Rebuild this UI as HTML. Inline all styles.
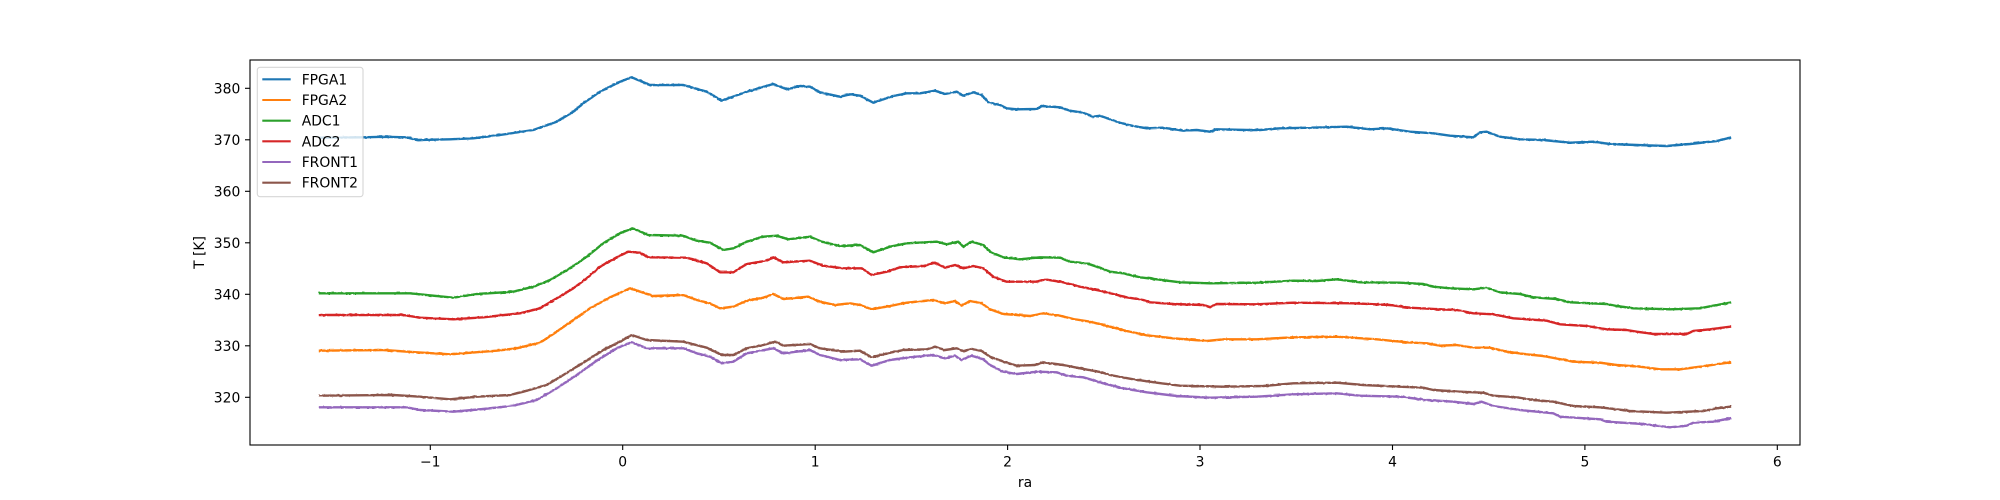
<!DOCTYPE html>
<html>
<head>
<meta charset="utf-8">
<style>
html,body{margin:0;padding:0;background:#fff;}
svg{display:block;}
text{font-family:"DejaVu Sans","Liberation Sans",sans-serif;font-size:13.9px;fill:#000;}
</style>
</head>
<body>
<svg width="2000" height="500" viewBox="0 0 2000 500" xmlns="http://www.w3.org/2000/svg">
<defs>
<filter id="jit" filterUnits="userSpaceOnUse" x="0" y="0" width="2000" height="500">
<feTurbulence type="fractalNoise" baseFrequency="0.35 0.6" numOctaves="1" seed="3" result="n"/>
<feDisplacementMap in="SourceGraphic" in2="n" scale="1.8" xChannelSelector="R" yChannelSelector="G"/>
</filter>
</defs>
<rect x="0" y="0" width="2000" height="500" fill="#fff"/>
<g fill="none" stroke-width="2.4" stroke-linejoin="round" stroke-linecap="square" filter="url(#jit)">
<polyline stroke="#1f77b4" points="320,137.8 340,137.5 363,137.3 385,136.8 406.7,137.3 416.7,140 450,139.3 473.3,138.3 500,135 533.3,130 556.7,121.7 573.3,111.7 583.3,103.3 600,91.7 620,81.7 631.7,77.3 650,85 683.3,85 706.7,91.7 721.7,100.7 746.7,91.7 773.3,84 786.7,89.3 800,86 810,86.7 820,92.3 840,96.7 850,94.3 860,95.7 873.3,102.7 893.3,96 906.7,93.3 920,93.3 935,90.7 945,94 956.7,91.7 963.3,95.7 973.3,92.3 981.7,95 988.3,102.3 1000,105 1006.7,108.3 1016.7,109.3 1036.7,109 1041.7,106 1060,107.3 1070,110.7 1083.3,112.7 1093.3,116.7 1100,115.7 1110,119.3 1120,122.7 1133.3,126 1146.7,128.3 1163.3,127.7 1183.3,130.7 1196.7,130 1210,131.7 1216.7,129.3 1246.7,130 1260,130 1280,128.3 1310,127.7 1346.7,126.7 1370,129.3 1386.7,128.3 1410,131.7 1433.3,133.3 1450,135.7 1473.3,137.3 1480,132.3 1486.7,131.7 1500,136.7 1520,139.3 1543.3,140 1570,142.7 1593.3,141.7 1610,144 1636.7,145 1666.7,146 1690,144 1716.7,141 1730,137.7"/>
<polyline stroke="#ff7f0e" points="320,350.7 383.3,350 416.7,352.3 450,354.3 496.7,350.7 516.7,348.3 540,342.7 556.7,331.7 573.3,320 590,308.3 610,297.3 630,288.3 643.3,292.7 653.3,296 683.3,295 696.7,300 710,303.3 720,308.3 733.3,306.7 746.7,300.7 763.3,297.7 773.3,294 783.3,299 808.3,296.7 820,301.7 835,305 850,303.3 860,305 871.7,309.3 890,306 906.7,302.7 933.3,300 945,303.3 955,301 961.7,305.7 970,301 981.7,303.3 990,309.3 1003.3,314 1030,316 1043.3,313.3 1060,315.7 1073.3,319 1090,321.7 1110,326.7 1126.7,331 1146.7,335.3 1173.3,338.3 1206.7,341 1223.3,339.3 1256.7,339.3 1293.3,337.3 1336.7,336.7 1376.7,339.3 1406.7,342.3 1426.7,343.3 1440,345.7 1456.7,345 1473.3,347.7 1490,347.7 1506.7,351.7 1526.7,354.3 1543.3,356 1573.3,361.7 1600,362.7 1616.7,365 1640,366.7 1660,369.3 1680,369.3 1700,366.7 1730,362.3"/>
<polyline stroke="#2ca02c" points="320,293.3 410,293.3 453.3,297.7 476.7,294 513.3,291.7 533.3,286.7 550,280 570,268.3 586.7,256.7 603.3,243.3 620,233.3 632.7,228.3 648.3,235 683.3,235.7 696.7,240.7 710,242.7 723.3,250 733.3,248.3 746.7,241.7 763.3,236.7 776.7,235.7 788.3,239.3 810,236.7 821.7,241.7 840,246 860,245 873.3,252.3 890,246.7 906.7,243.3 936.7,241.7 946.7,244.3 958.3,241.7 963.3,246.7 971.7,241.7 983.3,245 990,251.7 1003.3,257.3 1020,259.3 1040,257.3 1060,257.7 1070,261.7 1086.7,263.3 1101.7,268.3 1110,271.7 1123.3,273.3 1140,277.3 1156.7,279.3 1180,282.3 1210,283.3 1256.7,282.7 1293.3,280.7 1316.7,281 1336.7,279.3 1360,282.3 1400,282.7 1423.3,284 1433.3,286.7 1450,288.3 1473.3,289.3 1486.7,287.7 1500,292.3 1520,294 1533.3,297.3 1556.7,299 1570,302.3 1606.7,304 1616.7,306 1633.3,308.3 1670,309.3 1700,308.3 1713.3,305.7 1730,302.7"/>
<polyline stroke="#d62728" points="320,315 403.3,315 420,317.7 453.3,319.3 483.3,317.3 520,313.3 540,308.3 556.7,298.3 573.3,288.3 586.7,278.3 600,266.7 616.7,257.3 628.3,251.7 640,252.7 648.3,257.3 686.7,257.7 706.7,263.3 720,272.3 733.3,272.3 746.7,264 766.7,260.7 773.3,257.3 783.3,262.3 810,260.7 823.3,265.7 843.3,268.3 861.7,268.3 871.7,275 886.7,271.7 900,267.3 923.3,266 935,262.7 945,267.7 955,265 963.3,268.3 973.3,266 983.3,268.3 993.3,276.7 1006.7,281.7 1036.7,281.7 1045,279.3 1063.3,282.3 1080,286.7 1100,290.7 1113.3,294 1126.7,297.3 1143.3,300 1150,302.3 1173.3,304 1203.3,305 1210,307.3 1216.7,304 1256.7,304.3 1293.3,302.7 1353.3,303.3 1390,305 1410,307.7 1440,309.3 1456.7,310 1473.3,313.3 1493.3,314.3 1513.3,318.3 1546.7,320.7 1560,324.3 1586.7,326 1606.7,329.3 1626.7,330 1636.7,331.7 1653.3,334 1686.7,334 1693.3,331 1710,329.3 1730,326.7"/>
<polyline stroke="#9467bd" points="320,407.3 406.7,407.3 420,410 453.3,411.7 483.3,409 513.3,405.7 536.7,400 556.7,388.3 576.7,375 596.7,360.7 616.7,348.3 631.7,342.3 646.7,348.3 683.3,348.3 696.7,353.3 710,356.7 721.7,363.3 733.3,361.7 746.7,353.3 773.3,348.3 783.3,353.3 810,350 820,355 840,360 860,359.3 871.7,365.7 890,360 910,357.3 933.3,355 945,358.3 955,355.7 961.7,360 971.7,355.7 983.3,359.3 990,365 1003.3,371.7 1016.7,374 1036.7,371.7 1056.7,372.3 1066.7,375.7 1083.3,377.3 1103.3,383.3 1123.3,388.3 1146.7,392.3 1176.7,396 1210,397.7 1256.7,396.7 1293.3,394.3 1336.7,393.3 1360,395.7 1400,396.7 1426.7,400 1453.3,401.7 1473.3,404 1481.7,401.7 1493.3,406 1520,410 1553.3,413.3 1560,416.7 1600,419.3 1606.7,421.7 1643.3,424 1670,427.3 1686.7,425.7 1693.3,422.7 1713.3,421.7 1730,418.3"/>
<polyline stroke="#8c564b" points="320,395.7 393.3,395 420,396.7 450,399.3 476.7,396.7 510,395 523.3,391.7 546.7,385 563.3,375 583.3,362.7 603.3,350 620,341.7 631.7,335 646.7,340 683.3,341.7 706.7,347.7 721.7,355 733.3,355 746.7,348.3 763.3,345 775,341.7 783.3,345.7 810,344 820,348.3 843.3,351.7 860,350.7 871.7,357.3 890,352.7 903.3,350 926.7,349.3 935,346.7 945,350 956.7,348.3 963.3,351 971.7,349 981.7,351 990,356.7 1006.7,362.7 1016.7,365.7 1035,365 1043.3,362.3 1063.3,365 1080,368.3 1101.7,372.3 1110,375 1133.3,379.3 1156.7,382.7 1180,385.7 1223.3,386.7 1263.3,386 1293.3,383.3 1336.7,382.7 1363.3,385 1400,386.7 1423.3,387.7 1433.3,390 1460,391.7 1483.3,392.7 1493.3,395.7 1516.7,397.3 1533.3,400 1553.3,401.7 1573.3,406 1600,407.3 1616.7,409.3 1630,411 1666.7,412.7 1703.3,411 1716.7,408.3 1730,406.7"/>
</g>
<!-- axes frame -->
<rect x="250" y="60" width="1550" height="385" fill="none" stroke="#000" stroke-width="1.1"/>
<g stroke="#000" stroke-width="1.1">
<line x1="245" y1="397.3" x2="250" y2="397.3"/>
<line x1="245" y1="345.8" x2="250" y2="345.8"/>
<line x1="245" y1="294.3" x2="250" y2="294.3"/>
<line x1="245" y1="242.8" x2="250" y2="242.8"/>
<line x1="245" y1="191.3" x2="250" y2="191.3"/>
<line x1="245" y1="139.8" x2="250" y2="139.8"/>
<line x1="245" y1="88.3" x2="250" y2="88.3"/>
<line x1="430.3" y1="445" x2="430.3" y2="450"/>
<line x1="622.7" y1="445" x2="622.7" y2="450"/>
<line x1="815.2" y1="445" x2="815.2" y2="450"/>
<line x1="1007.6" y1="445" x2="1007.6" y2="450"/>
<line x1="1200" y1="445" x2="1200" y2="450"/>
<line x1="1392.5" y1="445" x2="1392.5" y2="450"/>
<line x1="1584.9" y1="445" x2="1584.9" y2="450"/>
<line x1="1777.3" y1="445" x2="1777.3" y2="450"/>
</g>
<g text-anchor="end">
<text x="240.3" y="402.4">320</text>
<text x="240.3" y="350.9">330</text>
<text x="240.3" y="299.4">340</text>
<text x="240.3" y="247.9">350</text>
<text x="240.3" y="196.4">360</text>
<text x="240.3" y="144.9">370</text>
<text x="240.3" y="93.4">380</text>
</g>
<g text-anchor="middle">
<text x="430.3" y="466.5">−1</text>
<text x="622.7" y="466.5">0</text>
<text x="815.2" y="466.5">1</text>
<text x="1007.6" y="466.5">2</text>
<text x="1200" y="466.5">3</text>
<text x="1392.5" y="466.5">4</text>
<text x="1584.9" y="466.5">5</text>
<text x="1777.3" y="466.5">6</text>
<text x="1025" y="487">ra</text>
<text transform="translate(204,252.5) rotate(-90)">T [K]</text>
</g>
<!-- legend -->
<rect x="257.3" y="67.3" width="105.7" height="129.4" rx="2.8" ry="2.8" fill="#fff" fill-opacity="0.8" stroke="#cccccc" stroke-opacity="0.8" stroke-width="1.1"/>
<g stroke-width="2.1">
<line x1="262.3" y1="79.3" x2="290.7" y2="79.3" stroke="#1f77b4"/>
<line x1="262.3" y1="100" x2="290.7" y2="100" stroke="#ff7f0e"/>
<line x1="262.3" y1="120.7" x2="290.7" y2="120.7" stroke="#2ca02c"/>
<line x1="262.3" y1="141.3" x2="290.7" y2="141.3" stroke="#d62728"/>
<line x1="262.3" y1="162" x2="290.7" y2="162" stroke="#9467bd"/>
<line x1="262.3" y1="182.7" x2="290.7" y2="182.7" stroke="#8c564b"/>
</g>
<g>
<text x="301.7" y="84.3">FPGA1</text>
<text x="301.7" y="105">FPGA2</text>
<text x="301.7" y="125.7">ADC1</text>
<text x="301.7" y="146.3">ADC2</text>
<text x="301.7" y="167">FRONT1</text>
<text x="301.7" y="187.7">FRONT2</text>
</g>
</svg>
</body>
</html>
